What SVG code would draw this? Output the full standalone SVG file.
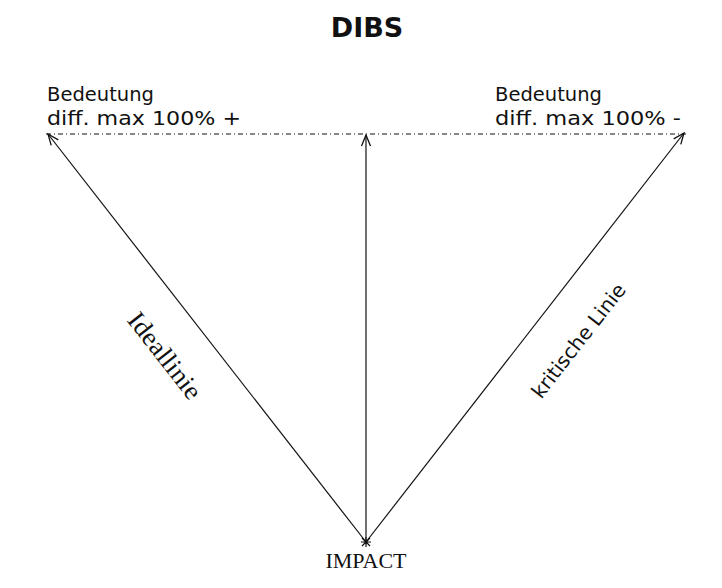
<svg xmlns="http://www.w3.org/2000/svg" width="722" height="588" viewBox="0 0 722 588">
<style>
.sans{font-family:"DejaVu Sans","Verdana",sans-serif;fill:#111}
.serif{font-family:"Liberation Serif","Times New Roman",serif;fill:#111}
.ln{stroke:#111;stroke-width:1.2;fill:none}
</style>
<defs>
<marker id="arr" markerWidth="14" markerHeight="12" refX="12" refY="6" orient="auto" markerUnits="userSpaceOnUse">
<path d="M1,1.5 L12,6 L1,10.5" fill="none" stroke="#111" stroke-width="1.3"/>
</marker>
</defs>
<rect width="722" height="588" fill="#fff"/>
<g id="title"><text class="sans" x="367" y="37" font-size="27" font-weight="bold" text-anchor="middle">DIBS</text></g>
<g id="left-label">
<text class="sans" x="47" y="101" font-size="19" textLength="107" lengthAdjust="spacingAndGlyphs">Bedeutung</text>
<text class="sans" x="47" y="125" font-size="19" textLength="194" lengthAdjust="spacingAndGlyphs">diff. max 100% +</text>
</g>
<g id="right-label">
<text class="sans" x="495" y="101" font-size="19" textLength="107" lengthAdjust="spacingAndGlyphs">Bedeutung</text>
<text class="sans" x="495" y="125" font-size="19" textLength="186" lengthAdjust="spacingAndGlyphs">diff. max 100% -</text>
</g>
<g id="impact">
<text class="serif" x="366" y="568" font-size="22" text-anchor="middle">IMPACT</text>
</g>
<g id="connectors">
<line class="ln" x1="46" y1="134" x2="686" y2="134" stroke-dasharray="5,3,1,3"/>
<line class="ln" x1="366" y1="542" x2="48" y2="134" marker-end="url(#arr)"/>
<line class="ln" x1="366" y1="542" x2="366" y2="135" marker-end="url(#arr)"/>
<line class="ln" x1="366" y1="542" x2="684" y2="133" marker-end="url(#arr)"/>
<path class="ln" d="M362,538 L370,546 M370,538 L362,546 M366,537 L366,547 M361,542 L371,542" stroke-width="1"/>
</g>
<g id="label-ideal">
<text class="serif" transform="translate(158,361) rotate(52)" font-size="26" text-anchor="middle" textLength="103" lengthAdjust="spacingAndGlyphs">Ideallinie</text>
</g>
<g id="label-kritisch">
<text class="sans" transform="translate(584,345) rotate(-52)" font-size="20" text-anchor="middle" textLength="139" lengthAdjust="spacingAndGlyphs">kritische Linie</text>
</g>
</svg>
